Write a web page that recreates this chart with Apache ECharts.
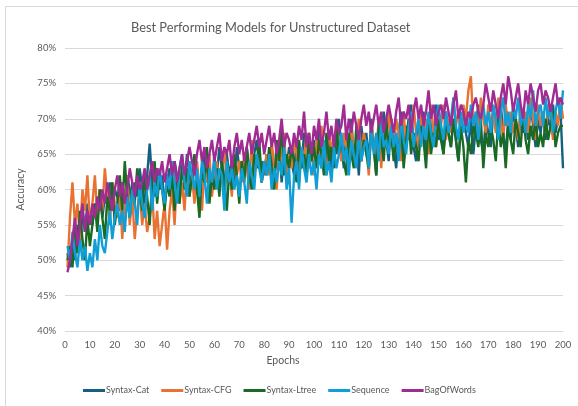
<!DOCTYPE html>
<html lang="en">

<head>
    <meta charset="UTF-8">
    <title>Best Performing Models</title>
    <script src="https://cdn.jsdelivr.net/npm/echarts@6/dist/echarts.min.js"></script>
    <style>
        body { margin: 0; background: #fff; }
        #frame { position: absolute; left: 5px; top: 6px; width: 600px; height: 420px; border: 1px solid #d9d9d9; }
        #main { position: absolute; left: 0; top: 0; width: 578px; height: 406px; }
    </style>
</head>

<body>
    <div id="frame"></div>
    <div id="main"></div>
    <script>
        var seriesNames = ['Syntax-Cat', 'Syntax-CFG', 'Syntax-Ltree', 'Sequence', 'BagOfWords'];
        var colors = ['#156082', '#E97132', '#196B24', '#0F9ED5', '#A02B93'];

        // accuracy (%) for epochs 1..200
        var syntaxCat = [
            51, 49, 53, 50, 55, 52, 57, 54, 58, 56,
            55, 58, 57, 60, 56, 59, 58, 61, 57, 60,
            59, 57, 61, 58, 62, 60, 57, 61, 59, 63,
            60, 58, 62, 66.5, 61, 59, 63, 60, 62, 58,
            61, 63, 60, 64, 62, 59, 63, 61, 65, 62,
            60, 64, 62, 58, 63, 65, 61, 63, 60, 64,
            62, 66, 63, 60, 65, 62, 64, 61, 66, 63,
            64, 62, 66, 63, 61, 65, 67, 63, 64, 62,
            65, 63, 66, 62, 64, 67, 61, 65, 63, 66,
            64, 62, 67, 65, 63, 68, 62, 66, 64, 67,
            65, 69, 63, 66, 64, 68, 62, 67, 65, 70,
            66, 63, 68, 65, 70, 64, 67, 62, 69, 66,
            68, 64, 70, 66, 62, 69, 65, 71, 67, 64,
            70, 66, 63, 68, 71, 65, 69, 67, 72, 66,
            64, 69, 67, 71, 65, 68, 70, 66, 72, 67,
            69, 65, 71, 68, 66, 70, 67, 64, 69, 71,
            68, 66, 70, 65, 69, 72, 67, 65, 70, 68,
            66, 71, 69, 67, 72, 68, 65, 70, 67, 71,
            69, 66, 71, 68, 70, 67, 72, 69, 66, 70,
            68, 71, 67, 70, 69, 72, 68, 70, 71, 63
        ];
        var syntaxCfg = [
            49, 56, 61, 55, 58, 53, 60, 57, 62, 55,
            58, 62, 56, 60, 57, 63, 59, 55, 61, 58,
            56, 60, 53, 58, 62, 55, 59, 53, 57, 60,
            55, 58, 54, 56, 60, 53, 57, 52, 55, 58,
            51.5, 57, 60, 55, 62, 58, 61, 57, 63, 59,
            62, 58, 64, 60, 57, 63, 61, 65, 59, 62,
            64, 60, 62, 66, 61, 63, 59, 65, 62, 64,
            61, 65, 63, 60, 67, 62, 64, 66, 61, 63,
            65, 62, 67, 63, 60, 66, 64, 68, 62, 65,
            63, 67, 65, 61, 66, 64, 68, 63, 66, 62,
            67, 64, 69, 65, 62, 68, 66, 64, 69, 66,
            64, 68, 66, 63, 69, 65, 67, 70, 64, 68,
            66, 62, 69, 67, 65, 70, 63, 68, 66, 71,
            67, 65, 70, 68, 64, 71, 66, 69, 67, 72,
            68, 66, 71, 67, 70, 65, 72, 68, 66, 70,
            69, 72, 67, 70, 68, 73, 69, 71, 67, 72,
            70, 74, 76, 69, 71, 67, 73, 70, 68, 72,
            69, 71, 68, 73, 70, 67, 72, 69, 71, 68,
            70, 67, 72, 69, 71, 68, 73, 70, 67, 72,
            69, 71, 68, 72, 70, 67, 71, 69, 73, 70
        ];
        var syntaxLtree = [
            50, 52, 49, 55, 51, 57, 53, 50, 56, 52,
            55, 58, 54, 60, 56, 53, 59, 57, 61, 55,
            58, 62, 57, 64, 59, 56, 61, 58, 63, 60,
            57, 62, 59, 55, 61, 64, 58, 62, 60, 57,
            61, 59, 63, 57, 62, 58, 64, 60, 63, 59,
            62, 65, 60, 56, 63, 61, 66, 58, 62, 60,
            63, 59, 64, 61, 57, 63, 60, 65, 62, 58,
            64, 61, 66, 62, 60, 65, 63, 67, 61, 64,
            62, 66, 63, 60, 67, 64, 69, 62, 65, 63,
            66, 64, 61, 67, 63, 65, 62, 68, 64, 66,
            63, 67, 65, 62, 68, 64, 66, 63, 69, 65,
            67, 64, 62, 68, 65, 63, 69, 66, 64, 67,
            65, 63, 68, 66, 62, 69, 67, 64, 70, 66,
            68, 64, 67, 65, 69, 63, 67, 70, 65, 68,
            66, 64, 69, 67, 63, 70, 65, 68, 66, 70,
            67, 65, 69, 68, 66, 70, 67, 64, 69, 66,
            61, 67, 65, 69, 68, 66, 70, 63, 68, 66,
            69, 67, 64, 70, 66, 68, 63, 69, 67, 65,
            70, 68, 66, 71, 67, 65, 69, 67, 70, 66,
            68, 66, 70, 67, 69, 71, 66, 68, 69, 69
        ];
        var sequence = [
            52, 50, 54, 51, 49, 53, 50, 52, 48.5, 51,
            49, 53, 50, 55, 52, 51, 54, 57, 53, 56,
            58, 55, 57, 54, 59, 56, 60, 58, 55, 61,
            58, 56, 60, 62, 57, 61, 59, 63, 60, 58,
            62, 60, 64, 61, 58, 63, 65, 61, 59, 64,
            62, 60, 63, 59, 64, 62, 58, 63, 61, 65,
            60, 63, 62, 57, 64, 61, 63, 60, 62, 59,
            63, 61, 58, 64, 62, 60, 65, 63, 61, 64,
            62, 65, 60, 63, 61, 64, 62, 66, 60, 63,
            55.3, 62, 64, 60, 66, 63, 61, 65, 62, 64,
            60, 65, 63, 67, 62, 64, 61, 66, 63, 65,
            68, 64, 66, 62, 67, 65, 63, 68, 64, 66,
            67, 63, 69, 65, 68, 64, 70, 66, 67, 65,
            69, 66, 68, 64, 70, 67, 65, 69, 71, 66,
            68, 70, 66, 69, 67, 71, 68, 66, 70, 72,
            69, 67, 71, 68, 70, 73, 69, 67, 71, 68,
            70, 68, 72, 69, 71, 67, 70, 72, 69, 71,
            68, 72, 70, 67, 71, 73, 69, 71, 68, 72,
            70, 73, 69, 71, 68, 72, 70, 74, 69, 71,
            72, 69, 73, 70, 72, 68, 71, 73, 70, 74
        ];
        var bagOfWords = [
            48.3, 50, 53, 56, 52, 55, 58, 54, 57, 55,
            58, 56, 59, 57, 60, 58, 61, 59, 57, 60,
            62, 59, 61, 58, 60, 63, 61, 59, 62, 60,
            61, 63, 60, 62, 64, 61, 63, 62, 64, 61,
            63, 65, 62, 64, 61, 63, 65, 62, 64, 66,
            64, 62, 65, 67, 64, 66, 63, 65, 67, 64,
            66, 68, 64, 66, 65, 67, 63, 66, 68, 65,
            67, 64, 66, 68, 65, 67, 69, 66, 68, 65,
            67, 69, 66, 68, 65, 67, 70, 66, 68, 67,
            65, 68, 66, 69, 67, 71, 66, 68, 65, 69,
            67, 70, 66, 68, 71, 67, 69, 66, 70, 68,
            69, 72, 67, 70, 68, 71, 69, 67, 70, 72,
            69, 71, 68, 70, 72, 69, 71, 68, 70, 72,
            70, 68, 71, 73, 69, 71, 70, 72, 68, 71,
            73, 70, 72, 69, 71, 74, 70, 72, 69, 71,
            72, 70, 73, 71, 69, 72, 74, 70, 72, 71,
            69, 71, 70, 72, 73, 71, 70, 72, 75, 73,
            71, 74, 72, 70, 73, 75, 72, 76, 74, 71,
            73, 75, 72, 70, 74, 72, 75, 73, 71, 74,
            75, 72, 74, 73, 71, 73, 75, 72, 73, 72
        ];
        var allValues = [syntaxCat, syntaxCfg, syntaxLtree, sequence, bagOfWords];

        var myChart = echarts.init(document.getElementById('main'));

        var series = [];
        for (var s = 0; s < seriesNames.length; s++) {
            var pts = [];
            for (var i = 0; i < allValues[s].length; i++) {
                pts.push([i + 1, allValues[s][i]]);
            }
            series.push({
                name: seriesNames[s],
                type: 'line',
                data: pts,
                showSymbol: false,
                symbol: 'none',
                lineStyle: { width: 2.4, color: colors[s] },
                itemStyle: { color: colors[s] }
            });
        }

        myChart.setOption({
            animation: false,
            textStyle: { fontFamily: 'Lato' },
            title: {
                text: 'Best Performing Models for Unstructured Dataset',
                left: 126,
                top: 16,
                textStyle: { fontSize: 12.8, fontWeight: 'normal', color: '#595959', fontFamily: 'Lato' }
            },
            legend: {
                bottom: 6,
                left: 78,
                itemWidth: 22,
                itemHeight: 3,
                itemGap: 12,
                icon: 'rect',
                textStyle: { fontSize: 9, color: '#595959', padding: [0, 0, 0, -4] },
                data: seriesNames
            },
            grid: { left: 65, right: 15, top: 48, bottom: 75 },
            xAxis: {
                type: 'value',
                min: 0,
                max: 200,
                interval: 10,
                name: 'Epochs',
                nameLocation: 'middle',
                nameGap: 22,
                nameTextStyle: { fontSize: 10.5, color: '#595959', padding: [0, 62, 0, 0] },
                axisLine: { show: false },
                axisTick: { show: false },
                splitLine: { show: false },
                axisLabel: { fontSize: 9.5, color: '#595959', margin: 9 }
            },
            yAxis: {
                type: 'value',
                min: 40,
                max: 80,
                interval: 5,
                name: 'Accuracy',
                nameLocation: 'middle',
                nameGap: 36,
                nameTextStyle: { fontSize: 10.5, color: '#595959' },
                axisLine: { show: false },
                axisTick: { show: false },
                splitLine: { lineStyle: { color: '#d9d9d9', width: 1 } },
                axisLabel: { fontSize: 9.5, color: '#595959', formatter: '{value}%', margin: 9 }
            },
            series: series
        });
    </script>
</body>

</html>
